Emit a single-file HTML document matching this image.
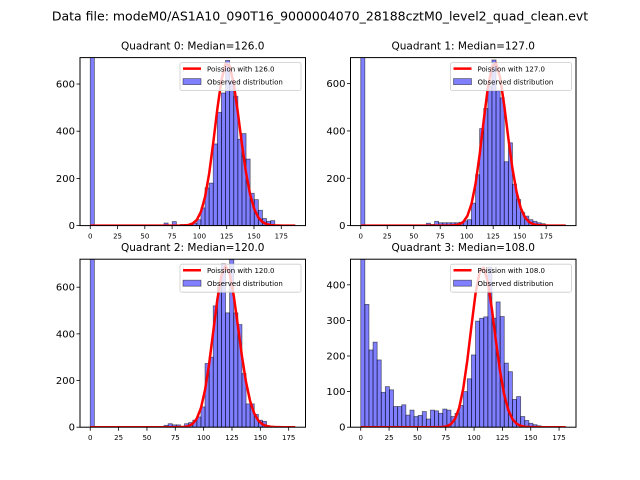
<!DOCTYPE html>
<html><head><meta charset="utf-8">
<style>
body{margin:0;background:#fff;}
svg{display:block;font-family:"DejaVu Sans","Liberation Sans",sans-serif;}
</style></head>
<body>
<svg id="fig" width="640" height="480" viewBox="0 0 640 480">
<rect width="640" height="480" fill="#fff"/>
<text x="320" y="20.5" font-size="12.5" text-anchor="middle" fill="#000">Data file: modeM0/AS1A10_090T16_9000004070_28188cztM0_level2_quad_clean.evt</text>
</svg>
<script>
const quadTitles = ["Quadrant 0: Median=126.0","Quadrant 1: Median=127.0","Quadrant 2: Median=120.0","Quadrant 3: Median=108.0"];
const lambdas = [126.0, 127.0, 120.0, 108.0];
const poissonPeaks = [690, 690, 690, 450];
const dataMax = [187.8, 193.5, 180.8, 180.9];
const yMax = [712, 710, 720, 472];
const yTickLabels = [[0,200,400,600],[0,200,400,600],[0,200,400,600],[0,100,200,300,400]];
const xTickLabels = [0,25,50,75,100,125,150,175];
const counts0 = [3000,0,0,0,0,0,0,0,0,0,0,0,0,0,0,0,0,0,11,0,17,0,5,5,5,10,25,75,160,180,346,480,562,700,612,548,366,390,282,137,110,65,30,18,21,3,2,2,1,1];
const counts1 = [3000,0,0,0,0,0,0,0,0,0,0,0,0,0,0,0,10,5,18,12,12,12,12,12,14,20,25,95,215,410,495,590,700,570,540,270,350,175,110,55,40,25,18,12,8,3,2,1,0,0];
const counts2 = [3000,0,0,0,0,0,0,0,0,0,0,0,0,0,0,0,0,0,8,15,10,10,0,15,20,30,44,87,273,300,520,600,700,490,720,490,440,230,100,100,55,30,25,5,2,0,0,0,0,0];
const counts3 = [600,345,217,239,189,98,114,105,58,58,63,34,48,30,33,44,23,48,46,39,51,48,30,39,61,100,136,203,298,306,310,450,306,352,311,180,156,78,86,30,19,11,7,4,1,0,0,0,0,0];
const allCounts = [counts0, counts1, counts2, counts3];

const NS = "http://www.w3.org/2000/svg";
const fig = document.getElementById('fig');
function mk(tag, attrs, parent){const e=document.createElementNS(NS,tag);for(const k in attrs)e.setAttribute(k,attrs[k]);(parent||fig).appendChild(e);return e;}
function lgamma(z){const g=7,c=[0.99999999999980993,676.5203681218851,-1259.1392167224028,771.32342877765313,-176.61502916214059,12.507343278686905,-0.13857109526572012,9.9843695780195716e-6,1.5056327351493116e-7];
 if(z<0.5)return Math.log(Math.PI/Math.sin(Math.PI*z))-lgamma(1-z);z-=1;let x=c[0];for(let i=1;i<g+2;i++)x+=c[i]/(z+i);const t=z+g+0.5;return 0.5*Math.log(2*Math.PI)+(z+0.5)*Math.log(t)-t+Math.log(x);}

const W=225.5,H=168;
const lefts=[80,350.5,80,350.5], tops=[57.6,57.6,259.2,259.2];
for(let q=0;q<4;q++){
  const L=lefts[q],T=tops[q],D=dataMax[q],YM=yMax[q];
  const x0=-0.05*D,x1=1.05*D;
  const sx=v=>L+(v-x0)/(x1-x0)*W;
  const sy=v=>T+H-v/YM*H;
  const g=mk('g',{});
  
  
  const cid='clip'+q;
  const cp=mk('clipPath',{id:cid},g);mk('rect',{x:L,y:T,width:W,height:H},cp);
  const plot=mk('g',{'clip-path':'url(#'+cid+')'},g);
  const cnt=allCounts[q],bw=D/cnt.length;
  for(let i=0;i<cnt.length;i++){
    if(cnt[i]<=0)continue;
    const r=mk('rect',{x:sx(i*bw),y:sy(cnt[i]),width:sx((i+1)*bw)-sx(i*bw),height:sy(0)-sy(cnt[i]),fill:'rgba(0,0,255,0.5)',stroke:'rgba(0,0,0,0.55)','stroke-width':0.8},plot);
    
    
  }
  const lam=lambdas[q],lpk=lam*Math.log(lam)-lgamma(lam+1);
  let d='';
  for(let i=0;i<=cnt.length;i++){
    const k=i*bw;
    const v=poissonPeaks[q]*Math.exp(k*Math.log(lam)-lgamma(k+1)-lpk);
    d+=(i?'L':'M')+sx(k).toFixed(2)+','+sy(v).toFixed(2);
  }
  const pl=mk('path',{d:d,fill:'none',stroke:'#ff0000','stroke-width':2.5,'stroke-linejoin':'round'},plot);
  
  
  mk('rect',{x:L,y:T,width:W,height:H,fill:'none',stroke:'#000','stroke-width':1},g);
  for(const t of xTickLabels){
    const x=sx(t);
    mk('line',{x1:x,y1:T+H,x2:x,y2:T+H+3.5,stroke:'#000','stroke-width':0.8},g);
    const tx=mk('text',{x:x,y:T+H+13,'font-size':7,'text-anchor':'middle'},g);tx.textContent=t;
    
    
  }
  for(const t of yTickLabels[q]){
    const y=sy(t);
    mk('line',{x1:L-3.5,y1:y,x2:L,y2:y,stroke:'#000','stroke-width':0.8},g);
    const ty=mk('text',{x:L-5,y:y+3.5,'font-size':10,'text-anchor':'end'},g);ty.textContent=t;
    
    
  }
  const tt=mk('text',{x:L+W/2,y:T-8,'font-size':10.5,'text-anchor':'middle'},g);tt.textContent=quadTitles[q];
  
  
  const lg=mk('g',{},g);
  
  
  const lx=L+W-125.5,ly=T+5;
  mk('rect',{x:lx,y:ly,width:121,height:28,fill:'rgba(255,255,255,0.8)',stroke:'#ccc','stroke-width':0.8,rx:2},lg);
  mk('line',{x1:lx+3,y1:ly+6,x2:lx+21,y2:ly+6,stroke:'#ff0000','stroke-width':2.5},lg);
  const t1=mk('text',{x:lx+27,y:ly+9,'font-size':7},lg);t1.textContent='Poission with '+lambdas[q].toFixed(1);
  
  
  mk('rect',{x:lx+3,y:ly+16,width:18,height:6,fill:'rgba(0,0,255,0.5)',stroke:'rgba(0,0,0,0.5)','stroke-width':0.8},lg);
  const t2=mk('text',{x:lx+27,y:ly+22,'font-size':7},lg);t2.textContent='Observed distribution';
  
  
}
</script>
</body></html>
